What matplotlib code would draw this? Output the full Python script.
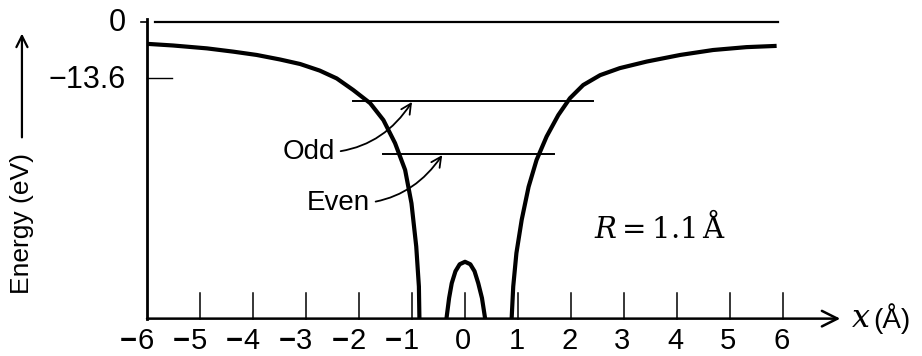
import matplotlib
matplotlib.use("Agg")
import matplotlib.pyplot as plt
from matplotlib.transforms import offset_copy

plt.rcParams['font.family'] = ['Liberation Sans', 'DejaVu Sans']
plt.rcParams['mathtext.fontset'] = 'dejavuserif'

# potential energy curve, left of the molecule (x in angstrom, E in eV)
left_x = [-6.0, -5.51, -4.87, -4.37, -3.93, -3.49, -3.11, -2.74, -2.42, -2.11,
          -1.79, -1.54, -1.32, -1.13, -1.01, -0.92, -0.87, -0.86]
left_e = [-5.3, -5.7, -6.4, -7.2, -8.0, -9.1, -10.2, -11.8, -13.7, -16.5,
          -19.7, -23.8, -29.4, -35.9, -44.0, -54.5, -64.2, -72.0]

# right of the molecule
right_x = [0.88, 0.91, 0.97, 1.07, 1.20, 1.35, 1.54, 1.76, 1.98, 2.23,
           2.55, 2.92, 3.43, 4.06, 4.68, 5.31, 5.88]
right_e = [-72.0, -64.2, -56.1, -48.0, -40.0, -33.5, -27.8, -22.6, -18.5, -15.3,
           -12.9, -11.2, -9.6, -8.0, -6.8, -6.1, -5.8]

# barrier between the two protons
mid_x = [-0.35, -0.30, -0.25, -0.18, -0.10, 0.0, 0.10, 0.18, 0.25, 0.32, 0.38]
mid_e = [-72.0, -67.0, -63.4, -60.5, -58.8, -58.2, -58.8, -60.5, -63.4, -67.0, -72.0]

# energy levels: name, E, x start, x end
level_names = ['Odd', 'Even']
level_e = [-19.2, -32.0]
level_x0 = [-2.11, -1.55]
level_x1 = [2.42, 1.68]

xticks = [-6, -5, -4, -3, -2, -1, 0, 1, 2, 3, 4, 5, 6]
e_bottom = -72.0
h_level = -13.6

fig = plt.figure(figsize=(9.22, 3.56), dpi=100)
ax = fig.add_axes([0, 0, 1, 1])
ax.set_xlim(-8.774, 8.623)
ax.set_ylim(-81.07, 5.34)
ax.axis('off')

# axes drawn by hand
ax.plot([-6, -6], [e_bottom, 0.8], color='black', lw=2.0)
ax.annotate('', xy=(7.08, e_bottom), xytext=(-6.0, e_bottom),
            arrowprops=dict(arrowstyle='->', lw=1.8, mutation_scale=28,
                            shrinkA=0, shrinkB=0, color='black'))
ax.plot([-5.85, 5.9], [0, 0], color='black', lw=1.6)
ax.plot([-6.12, -6.0], [0, 0], color='black', lw=1.2)
ax.plot([-6.0, -5.53], [h_level, h_level], color='black', lw=1.0)
for t in xticks[1:]:
    ax.plot([t, t], [e_bottom, e_bottom + 6.3], color='black', lw=1.1)

# tick labels, digit centred on the tick, minus sign hung to the left
lab_y = -80.9
minus_tr = offset_copy(ax.transData, fig=fig, x=-9, y=0, units='dots')
for t in xticks:
    ax.text(t - 0.03, lab_y, str(abs(t)), ha='center', va='bottom', fontsize=21)
    if t < 0:
        ax.text(t - 0.03, lab_y, '\u2212', ha='right', va='bottom', fontsize=21,
                fontweight='bold', transform=minus_tr)

ax.text(-6.4, -0.3, '0', ha='right', va='center', fontsize=22)
ax.text(-6.4, h_level - 0.5, '\u221213.6', ha='right', va='center', fontsize=22)

# curves
ax.plot(left_x, left_e, color='black', lw=3.0, solid_capstyle='butt')
ax.plot(right_x, right_e, color='black', lw=3.0, solid_capstyle='butt')
ax.plot(mid_x, mid_e, color='black', lw=3.0, solid_capstyle='butt')

for e, x0, x1 in zip(level_e, level_x0, level_x1):
    ax.plot([x0, x1], [e, e], color='black', lw=1.4)

# labels for the levels
ax.annotate(level_names[0], xy=(-1.0, -19.4), xytext=(-2.45, -31.6),
            ha='right', va='center', fontsize=20,
            arrowprops=dict(arrowstyle='->', lw=1.3, mutation_scale=18,
                            connectionstyle='arc3,rad=0.3', shrinkA=2, shrinkB=0))
ax.annotate(level_names[1], xy=(-0.43, -32.3), xytext=(-1.79, -43.9),
            ha='right', va='center', fontsize=20,
            arrowprops=dict(arrowstyle='->', lw=1.3, mutation_scale=18,
                            connectionstyle='arc3,rad=0.3', shrinkA=2, shrinkB=0))

ax.text(3.68, -49.8, r'$R = 1.1\,\mathrm{\AA}$', ha='center', va='center', fontsize=21)

# axis titles
ax.text(7.28, e_bottom, r'$x$', ha='left', va='center', fontsize=23)
ax.text(7.7, e_bottom, '(\u00c5)', ha='left', va='center', fontsize=20)
ax.text(-8.36, -48.8, 'Energy (eV)', rotation=90, ha='center', va='center', fontsize=19)
ax.annotate('', xy=(-8.36, -2.8), xytext=(-8.36, -28.0),
            arrowprops=dict(arrowstyle='->', lw=1.6, mutation_scale=20,
                            shrinkA=0, shrinkB=0))

fig.savefig('out.png', dpi=100)
